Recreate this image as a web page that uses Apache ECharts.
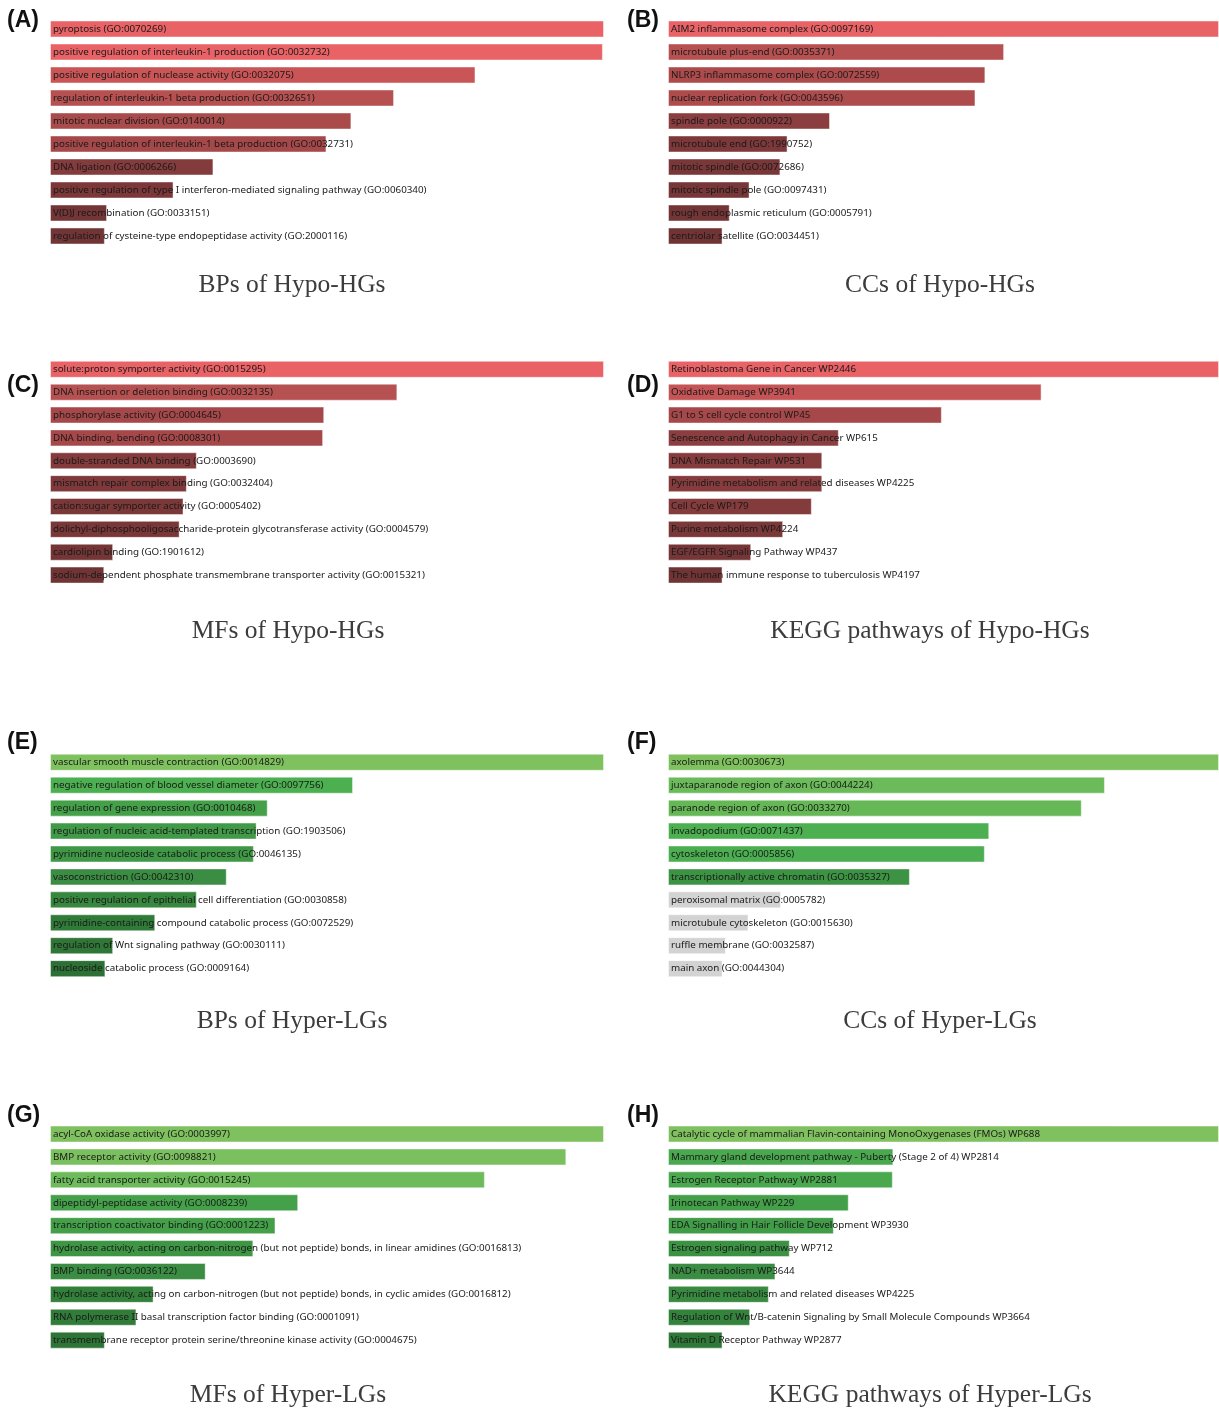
<!DOCTYPE html>
<html><head><meta charset="utf-8">
<script src="https://cdn.jsdelivr.net/npm/echarts@6/dist/echarts.min.js"></script>
<style>html,body{margin:0;padding:0;background:#fff}#c{width:1219px;height:1409px}</style>
</head><body><div id="c"></div>
<script>
// ---- data ----
const termsA = ["pyroptosis (GO:0070269)","positive regulation of interleukin-1 production (GO:0032732)","positive regulation of nuclease activity (GO:0032075)","regulation of interleukin-1 beta production (GO:0032651)","mitotic nuclear division (GO:0140014)","positive regulation of interleukin-1 beta production (GO:0032731)","DNA ligation (GO:0006266)","positive regulation of type I interferon-mediated signaling pathway (GO:0060340)","V(D)J recombination (GO:0033151)","regulation of cysteine-type endopeptidase activity (GO:2000116)"];
const valuesA = [100, 99.8, 76.8, 62.1, 54.4, 49.9, 29.5, 22.3, 10.3, 9.9];

const termsB = ["AIM2 inflammasome complex (GO:0097169)","microtubule plus-end (GO:0035371)","NLRP3 inflammasome complex (GO:0072559)","nuclear replication fork (GO:0043596)","spindle pole (GO:0000922)","microtubule end (GO:1990752)","mitotic spindle (GO:0072686)","mitotic spindle pole (GO:0097431)","rough endoplasmic reticulum (GO:0005791)","centriolar satellite (GO:0034451)"];
const valuesB = [100, 61.0, 57.6, 55.8, 29.4, 21.7, 20.4, 14.8, 11.2, 9.9];

const termsC = ["solute:proton symporter activity (GO:0015295)","DNA insertion or deletion binding (GO:0032135)","phosphorylase activity (GO:0004645)","DNA binding, bending (GO:0008301)","double-stranded DNA binding (GO:0003690)","mismatch repair complex binding (GO:0032404)","cation:sugar symporter activity (GO:0005402)","dolichyl-diphosphooligosaccharide-protein glycotransferase activity (GO:0004579)","cardiolipin binding (GO:1901612)","sodium-dependent phosphate transmembrane transporter activity (GO:0015321)"];
const valuesC = [100, 62.7, 49.5, 49.3, 26.5, 24.7, 24.1, 23.4, 11.4, 9.8];

const termsD = ["Retinoblastoma Gene in Cancer WP2446","Oxidative Damage WP3941","G1 to S cell cycle control WP45","Senescence and Autophagy in Cancer WP615","DNA Mismatch Repair WP531","Pyrimidine metabolism and related diseases WP4225","Cell Cycle WP179","Purine metabolism WP4224","EGF/EGFR Signaling Pathway WP437","The human immune response to tuberculosis WP4197"];
const valuesD = [100, 67.8, 49.7, 31.0, 28.0, 28.0, 26.1, 20.9, 15.1, 9.9];

const termsE = ["vascular smooth muscle contraction (GO:0014829)","negative regulation of blood vessel diameter (GO:0097756)","regulation of gene expression (GO:0010468)","regulation of nucleic acid-templated transcription (GO:1903506)","pyrimidine nucleoside catabolic process (GO:0046135)","vasoconstriction (GO:0042310)","positive regulation of epithelial cell differentiation (GO:0030858)","pyrimidine-containing compound catabolic process (GO:0072529)","regulation of Wnt signaling pathway (GO:0030111)","nucleoside catabolic process (GO:0009164)"];
const valuesE = [100, 54.7, 39.3, 37.3, 36.8, 31.9, 26.5, 19.0, 11.4, 10.0];

const termsF = ["axolemma (GO:0030673)","juxtaparanode region of axon (GO:0044224)","paranode region of axon (GO:0033270)","invadopodium (GO:0071437)","cytoskeleton (GO:0005856)","transcriptionally active chromatin (GO:0035327)","peroxisomal matrix (GO:0005782)","microtubule cytoskeleton (GO:0015630)","ruffle membrane (GO:0032587)","main axon (GO:0044304)"];
const valuesF = [100, 79.3, 75.1, 58.3, 57.5, 43.9, 20.5, 14.6, 10.5, 9.9];

const termsG = ["acyl-CoA oxidase activity (GO:0003997)","BMP receptor activity (GO:0098821)","fatty acid transporter activity (GO:0015245)","dipeptidyl-peptidase activity (GO:0008239)","transcription coactivator binding (GO:0001223)","hydrolase activity, acting on carbon-nitrogen (but not peptide) bonds, in linear amidines (GO:0016813)","BMP binding (GO:0036122)","hydrolase activity, acting on carbon-nitrogen (but not peptide) bonds, in cyclic amides (GO:0016812)","RNA polymerase II basal transcription factor binding (GO:0001091)","transmembrane receptor protein serine/threonine kinase activity (GO:0004675)"];
const valuesG = [100, 93.2, 78.5, 44.8, 40.7, 36.7, 28.1, 18.7, 15.6, 9.9];

const termsH = ["Catalytic cycle of mammalian Flavin-containing MonoOxygenases (FMOs) WP688","Mammary gland development pathway - Puberty (Stage 2 of 4) WP2814","Estrogen Receptor Pathway WP2881","Irinotecan Pathway WP229","EDA Signalling in Hair Follicle Development WP3930","Estrogen signaling pathway WP712","NAD+ metabolism WP3644","Pyrimidine metabolism and related diseases WP4225","Regulation of Wnt/B-catenin Signaling by Small Molecule Compounds WP3664","Vitamin D Receptor Pathway WP2877"];
const valuesH = [100, 40.9, 40.8, 32.8, 30.1, 22.1, 19.5, 18.3, 14.9, 9.9];

const panelTitles = ["BPs of Hypo-HGs","CCs of Hypo-HGs","MFs of Hypo-HGs","KEGG pathways of Hypo-HGs","BPs of Hyper-LGs","CCs of Hyper-LGs","MFs of Hyper-LGs","KEGG pathways of Hyper-LGs"];
const panelLetters = ["(A)","(B)","(C)","(D)","(E)","(F)","(G)","(H)"];

// ---- styles (colours per bar) ----
const colorsA = ["#E96266","#E96266","#C95556","#B65051","#A94A4B","#A44849","#833B3C","#7C3839","#733536","#723536"];
const colorsB = ["#E96266","#B65051","#AD4B4C","#AE4C4D","#8A3E3F","#7D3839","#7A3738","#773637","#733536","#713435"];
const colorsC = ["#E96266","#B65152","#A64849","#A64849","#843B3C","#7F393A","#7B3839","#7A3738","#733536","#713435"];
const colorsD = ["#E96266","#C45455","#A64849","#8A3E3F","#863C3D","#863C3D","#833B3C","#7B3839","#753637","#713435"];
const colorsE = ["#7FC15F","#4CAF50","#44A049","#419A47","#3F9846","#3A8D42","#37873F","#317B39","#2F7637","#2D7035"];
const colorsF = ["#7FC15F","#6CBB5A","#66B857","#4CAF50","#4BAE50","#3C9343","#D3D3D3","#D3D3D3","#D3D3D3","#D3D3D3"];
const colorsG = ["#7FC15F","#7BC05E","#6DBB5A","#45A04A","#43A049","#3E9645","#3A8D42","#32803A","#317C39","#2E7436"];
const colorsH = ["#7FC15F","#4AA84E","#4AA84E","#43A049","#419C47","#3C9243","#3A8D42","#388A40","#33833C","#2F7837"];

const panels = [
  {terms: termsA, values: valuesA, colors: colorsA, left: 50,  top: 17.5,  h: 230, tx: 292, ty: 285,  lx: 7,   ly: 21},
  {terms: termsB, values: valuesB, colors: colorsB, left: 668, top: 17.5,  h: 230, tx: 940, ty: 285,  lx: 627, ly: 21},
  {terms: termsC, values: valuesC, colors: colorsC, left: 50,  top: 357.9, h: 228.6, tx: 288, ty: 631, lx: 7,   ly: 386},
  {terms: termsD, values: valuesD, colors: colorsD, left: 668, top: 357.9, h: 228.6, tx: 930, ty: 631, lx: 627, ly: 386},
  {terms: termsE, values: valuesE, colors: colorsE, left: 50,  top: 750.8, h: 229.3, tx: 292, ty: 1021, lx: 7,  ly: 743},
  {terms: termsF, values: valuesF, colors: colorsF, left: 668, top: 750.8, h: 229.3, tx: 940, ty: 1021, lx: 627, ly: 743},
  {terms: termsG, values: valuesG, colors: colorsG, left: 50,  top: 1122.6, h: 229, tx: 288, ty: 1395, lx: 7,  ly: 1116},
  {terms: termsH, values: valuesH, colors: colorsH, left: 668, top: 1122.6, h: 229, tx: 930, ty: 1395, lx: 627, ly: 1116}
];

const grid = [], xAxis = [], yAxis = [], series = [], graphic = [];
panels.forEach((p, i) => {
  grid.push({left: p.left, top: p.top, width: 554, height: p.h, containLabel: false});
  xAxis.push({type: 'value', gridIndex: i, min: 0, max: 100, show: false});
  yAxis.push({type: 'category', gridIndex: i, inverse: true, data: p.terms, show: false});
  series.push({
    type: 'bar', xAxisIndex: i, yAxisIndex: i, barWidth: 17, silent: true,
    data: p.values.map((v, k) => ({value: v, itemStyle: {color: p.colors[k]}})),
    itemStyle: {borderColor: 'rgba(255,255,255,0.45)', borderWidth: 1},
    label: {
      show: true, position: 'insideLeft', distance: 3,
      formatter: (d) => p.terms[d.dataIndex],
      fontFamily: 'Noto Sans', fontSize: 9.8, color: '#1a1a1a', overflow: 'none'
    },
    labelLayout: {hideOverlap: false}
  });
  graphic.push({type: 'text', x: p.tx, y: p.ty, silent: true,
    style: {text: panelTitles[i], align: 'center', verticalAlign: 'middle',
      font: '25.5px "Liberation Serif"', fill: '#3c3c3c'}});
  graphic.push({type: 'text', x: p.lx, y: p.ly, silent: true,
    style: {text: panelLetters[i], align: 'left', verticalAlign: 'middle',
      font: 'bold 23px "Liberation Sans"', fill: '#111'}});
});

const chart = echarts.init(document.getElementById('c'), null, {renderer: 'canvas'});
chart.setOption({animation: false, backgroundColor: '#fff', grid, xAxis, yAxis, series, graphic});
</script>
</body></html>
